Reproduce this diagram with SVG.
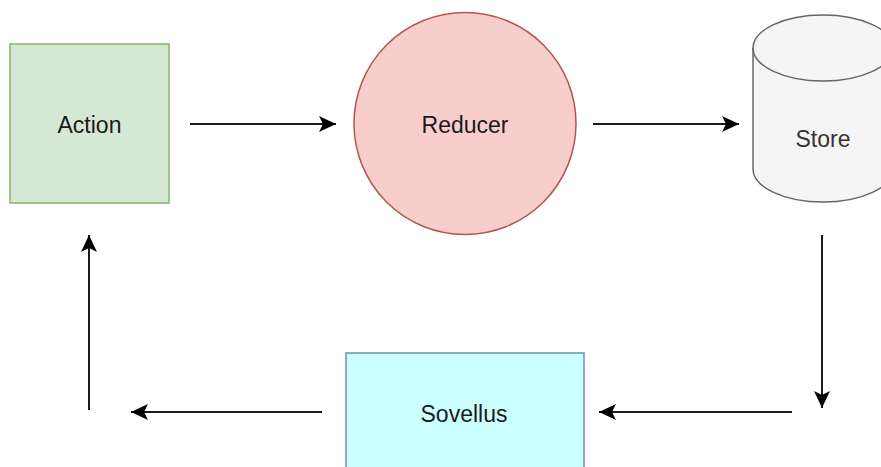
<svg xmlns="http://www.w3.org/2000/svg" width="881" height="467" viewBox="0 0 881 467">
  <style>
    .label { font-family: "Liberation Sans", Arial, sans-serif; font-size: 23px; fill: #1a1a1a; text-anchor: middle; }
    .edge { stroke: #1a1a1a; stroke-width: 2; fill: none; marker-end: url(#arrow); }
  </style>
  <defs>
    <marker id="arrow" markerUnits="userSpaceOnUse" markerWidth="22" markerHeight="22" viewBox="-20 -11 22 22" refX="0" refY="0" orient="auto">
      <path d="M0,0 L-17,-8 L-13,0 L-17,8 Z" fill="#000"/>
    </marker>
  </defs>
  <rect width="881" height="467" fill="#ffffff"/>

  <g id="action">
    <rect x="10" y="44" width="159" height="159" fill="#d5e8d4" stroke="#82b366" stroke-width="1.5"/>
    <text class="label" x="89.5" y="133">Action</text>
  </g>

  <g id="reducer">
    <circle cx="465" cy="123.5" r="111" fill="#f8cecc" stroke="#b85450" stroke-width="1.5"/>
    <text class="label" x="465" y="133">Reducer</text>
  </g>

  <g id="store">
    <path d="M753,48 A70,33 0 0 1 893,48 L893,169 A70,33 0 0 1 753,169 Z" fill="#f5f5f5" stroke="#666666" stroke-width="1.5"/>
    <path d="M753,48 A70,33 0 0 0 893,48" fill="none" stroke="#666666" stroke-width="1.5"/>
    <text class="label" x="823" y="147" style="fill:#333333">Store</text>
  </g>

  <g id="sovellus">
    <rect x="346" y="353" width="238" height="130" fill="#ccffff" stroke="#6c8ebf" stroke-width="1.5"/>
    <text class="label" x="464" y="422">Sovellus</text>
  </g>

  <g id="connectors">
    <line class="edge" x1="190" y1="124" x2="336" y2="124"/>
    <line class="edge" x1="593" y1="124" x2="739" y2="124"/>
    <line class="edge" x1="822" y1="235" x2="822" y2="408"/>
    <line class="edge" x1="792" y1="412" x2="599" y2="412"/>
    <line class="edge" x1="322" y1="412" x2="131" y2="412"/>
    <line class="edge" x1="89" y1="410" x2="89" y2="235"/>
  </g>
</svg>
